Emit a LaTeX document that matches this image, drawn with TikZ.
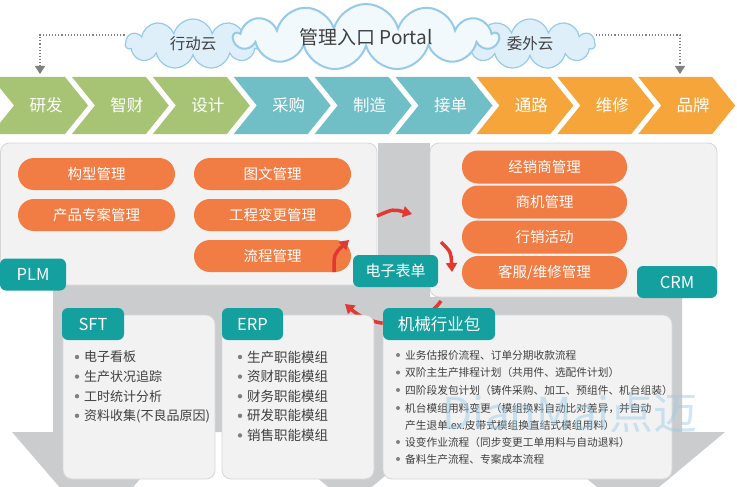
\documentclass[tikz,border=0pt]{standalone}
\usepackage{fontspec}
\setmainfont{Noto Sans CJK SC}
\usetikzlibrary{arrows.meta, calc, positioning, shapes.symbols}
\definecolor{chgreen}{RGB}{166,196,116}
\definecolor{chteal}{RGB}{112,190,198}
\definecolor{chorange}{RGB}{246,165,58}
\definecolor{pillorange}{RGB}{241,124,68}
\definecolor{tagteal}{RGB}{20,160,158}
\definecolor{panelgray}{RGB}{242,242,242}
\definecolor{panelline}{RGB}{214,214,214}
\definecolor{bandgray}{RGB}{203,204,206}
\definecolor{flowred}{RGB}{226,56,50}
\definecolor{cloudfill}{RGB}{222,239,250}
\definecolor{cloudline}{RGB}{150,202,234}
\definecolor{textgray}{RGB}{64,64,64}
\newcommand{\fsz}[1]{\fontsize{#1pt}{#1pt}\selectfont}

\tikzset{
  chev/.style={text=white, inner sep=0pt, font=\fsz{16.5}},
  pill/.style={fill=pillorange, rounded corners=16pt, text=white, inner sep=0pt, minimum height=32pt, font=\fsz{14.5}},
  tag/.style={fill=tagteal, rounded corners=6pt, text=white, inner sep=0pt, minimum height=32pt, font=\fsz{16.5}},
  panel/.style={fill=panelgray, draw=panelline, line width=0.8pt, rounded corners=9pt},
  yun/.style={cloud, cloud puffs=11, cloud ignores aspect, draw=cloudline, fill=cloudfill, line width=1.2pt, inner sep=0pt, text=textgray},
  flow/.style={flowred, line width=3.5pt, -{Triangle[length=9pt,width=11pt]}},
  dotline/.style={gray, dotted, line width=1.1pt, -{Triangle[length=8pt,width=10pt]}},
  item/.style={anchor=west, text=textgray, inner sep=0pt}
}

\begin{document}
\begin{tikzpicture}[x=1pt, y=-1pt]
    \clip (0,0) rectangle (737,487);
    \fill[white] (0,0) rectangle (737,487);

    % gray band behind the panels
    \fill[bandgray] (378,143) -- (430,143) -- (430,297) -- (682,297) -- (682,432)
        -- (53,432) -- (53,285) -- (378,285) -- cycle;
    \fill[bandgray] (12,432) -- (180,432) -- (96.5,530) -- cycle;
    \fill[bandgray] (262,432) -- (438,432) -- (350,505) -- cycle;
    \fill[bandgray] (531,432) -- (725,432) -- (628,513) -- cycle;

    % value chain
    \foreach \lab/\col [count=\i from 0] in {研发/chgreen,智财/chgreen,设计/chgreen,采购/chteal,制造/chteal,接单/chteal,通路/chorange,维修/chorange,品牌/chorange}{
        \pgfmathsetmacro\tip{88+80.9*\i}
        \fill[\col] (\tip-96.9,77) -- (\tip-23,77) -- (\tip,105.5) -- (\tip-23,134)
            -- (\tip-96.9,134) -- (\tip-73.9,105.5) -- cycle;
        \node[chev] (c\i) at (\tip-42,105.5) {\lab};
    }

    % clouds
    \node[yun, minimum width=135pt, minimum height=50pt, font=\fsz{15.5}] (yunL) at (193,44) {行动云};
    \node[yun, minimum width=130pt, minimum height=50pt, font=\fsz{15.5}] (yunR) at (530,44) {委外云};
    \node[yun, cloud puffs=13, fill=white!60!cloudfill, line width=2pt, minimum width=264pt, minimum height=66pt, font=\fsz{19}] (portal) at (366,37) {管理入口 Portal};

    \coordinate (arrL) at (40,74);
    \coordinate (arrR) at (680,74);
    \draw[dotline] ([yshift=9pt]yunL.west) -| (arrL);
    \draw[dotline] ([yshift=9pt]yunR.east) -| (arrR);

    % PLM and CRM
    \draw[panel] (0.5,143) rectangle (377,285);
    \draw[panel] (430,143) rectangle (717,297);

    \node[pill, minimum width=157pt] (gx) at (96.5,174) {构型管理};
    \node[pill, minimum width=157pt] (zan) at (96.5,215) {产品专案管理};
    \node[pill, minimum width=157pt] (tw) at (272.5,174) {图文管理};
    \node[pill, minimum width=157pt] (bg) at (272.5,215) {工程变更管理};
    \node[pill, minimum width=157pt] (lc) at (272.5,256) {流程管理};

    \node[pill, minimum width=165pt, minimum height=33pt] (jxs) at (544.5,167) {经销商管理};
    \node[pill, minimum width=165pt, minimum height=33pt] (sj) at (544.5,202) {商机管理};
    \node[pill, minimum width=165pt, minimum height=33pt] (xx) at (544.5,237) {行销活动};
    \node[pill, minimum width=165pt, minimum height=33pt] (kf) at (544.5,272.5) {客服/维修管理};

    % flow round the forms
    \coordinate (f1a) at (334,272);
    \coordinate (f1b) at (349,240);
    \coordinate (f2a) at (377,216);
    \coordinate (f2b) at (412,214);
    \coordinate (f3a) at (441,242);
    \coordinate (f3b) at (452,272);
    \coordinate (f4a) at (441,301);
    \coordinate (f4b) at (345,304);
    \draw[flow] (f1a) .. controls (334,254) .. (f1b);
    \draw[flow] (f2a) .. controls (393,209) .. (f2b);
    \draw[flow] (f3a) .. controls (451,252) .. (f3b);
    \draw[flow] (f4a) .. controls (420,330) and (375,330) .. (f4b);

    \node[tag, minimum width=66pt] (plm) at (33,274.5) {PLM};
    \node[tag, minimum width=80pt] (crm) at (677,282) {CRM};
    \node[tag, minimum width=85pt, font=\fsz{15}] (form) at (395.5,271) {电子表单};

    % lower panels
    \draw[panel] (63,315) rectangle (215,479);
    \draw[panel] (222,315) rectangle (374,479);
    \draw[panel] (383,315) rectangle (672,479);

    \node[tag, minimum width=62pt] (sft) at (93,324) {SFT};
    \node[tag, minimum width=61pt] (erp) at (252.5,324) {ERP};
    \node[tag, minimum width=112pt] (jx) at (439,324) {机械行业包};

    \foreach \txt [count=\i] in {电子看板,生产状况追踪,工时统计分析,资料收集(不良品原因)}{
        \pgfmathsetmacro\yy{357+19.6*(\i-1)}
        \fill[gray] (77,\yy) circle (2.2pt);
        \node[item, font=\fsz{13}] (sft\i) at (84,\yy) {\txt};
    }
    \foreach \txt [count=\i] in {生产职能模组,资财职能模组,财务职能模组,研发职能模组,销售职能模组}{
        \pgfmathsetmacro\yy{357+19.6*(\i-1)}
        \fill[gray] (240,\yy) circle (2.2pt);
        \node[item, font=\fsz{13.5}] (erp\i) at (247,\yy) {\txt};
    }
    \foreach \yy in {355,372.5,390,408,442,459}
        \fill[gray] (398,\yy) circle (2pt);
    \node[item, font=\fsz{10.7}] (jx1) at (405,355) {业务估报价流程、订单分期收款流程};
    \node[item, font=\fsz{10.7}] (jx2) at (405,372.5) {双阶主生产排程计划（共用件、选配件计划）};
    \node[item, font=\fsz{10.7}] (jx3) at (405,390) {四阶段发包计划（铸件采购、加工、预组件、机台组装）};
    \node[item, font=\fsz{10.7}] (jx4) at (405,408) {机台模组用料变更（模组换料自动比对差异，并自动};
    \node[item, font=\fsz{10.7}] (jx4b) at (405,425) {产生退单.ex.皮带式模组换直结式模组用料）};
    \node[item, font=\fsz{10.7}] (jx5) at (405,442) {设变作业流程（同步变更工单用料与自动退料）};
    \node[item, font=\fsz{10.7}] (jx6) at (405,459) {备料生产流程、专案成本流程};

    \node[text=cloudline, opacity=0.45, inner sep=0pt, font=\fsz{44}] (wm) at (570,413) {DianMai点迈};
\end{tikzpicture}
\end{document}
